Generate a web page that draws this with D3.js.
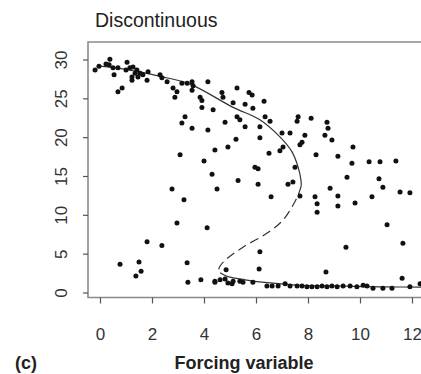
<!DOCTYPE html>
<html>
<head>
<meta charset="utf-8">
<script src="https://cdn.jsdelivr.net/npm/d3@7"></script>
<style>
  html, body { margin: 0; padding: 0; background: #fff; }
  svg { display: block; font-family: "Liberation Sans", Arial, Helvetica, sans-serif; }
</style>
</head>
<body>
<svg id="chart" width="421" height="374"></svg>
<script>
// ---- data ----
const title = "Discontinuous";
const xLabel = "Forcing variable";
const panelLabel = "(c)";
const xTicks = [0, 2, 4, 6, 8, 10, 12];
const yTicks = [0, 5, 10, 15, 20, 25, 30];

// observations: forcing variable (x) and state (y)
const forcingX = [
  -0.19,-0.04,0.23,0.38,0.35,0.5,0.69,0.54,0.69,0.85,1.04,1.0,1.15,1.27,1.42,1.35,1.23,1.23,1.54,1.65,
  1.85,1.81,1.46,2.31,2.38,2.58,2.81,2.96,2.88,3.15,3.35,3.54,3.58,3.54,3.85,3.92,3.92,4.15,4.35,3.27,
  3.15,3.54,4.15,3.08,4.0,2.77,3.23,2.96,1.81,2.38,0.77,1.5,1.58,1.38,3.35,3.38,3.88,4.42,4.12,4.42,
  4.31,4.5,4.69,4.73,5.27,5.73,5.85,6.31,5.12,5.58,5.88,4.81,5.27,5.38,6.35,6.54,5.58,6.15,7.62,7.58,
  8.12,7.0,7.31,7.88,7.77,7.69,8.73,8.77,8.65,8.92,9.73,8.31,9.15,9.69,10.35,10.77,11.38,7.5,4.92,5.23,
  6.15,6.5,6.92,7.04,5.96,6.08,5.31,6.08,7.23,7.42,9.5,10.73,10.88,8.85,11.54,11.92,6.58,7.69,8.27,8.35,
  8.35,9.15,9.15,9.81,10.46,11.04,11.65,6.15,6.12,4.85,8.69,9.46,11.62,
  4.42,4.62,4.81,4.92,5.08,5.12,5.38,5.5,5.88,6.42,6.62,6.85,7.12,7.31,7.58,7.77,7.96,8.15,8.35,8.54,
  8.73,8.92,9.12,9.35,9.62,9.88,10.12,10.27,10.5,10.88,11.23,11.92,12.31
];
const stateY = [
  28.7,29.2,29.5,30.1,29.4,29.0,29.0,28.1,25.9,26.4,29.7,28.7,29.0,29.1,28.7,28.3,27.8,27.4,28.3,28.1,
  28.5,27.4,27.8,28.1,27.7,27.2,26.4,25.9,25.2,27.0,27.0,27.2,26.7,26.1,25.2,24.8,23.9,27.2,23.6,22.7,
  21.9,21.2,21.0,17.8,17.0,13.4,12.0,9.0,6.6,6.1,3.7,4.0,2.8,2.2,3.9,1.4,1.7,1.4,8.4,18.4,
  15.3,13.4,25.8,25.2,26.4,25.8,25.5,24.7,24.5,24.3,23.8,22.0,22.7,22.3,22.7,22.1,21.4,21.4,22.7,22.1,
  22.5,20.6,20.6,20.3,19.4,19.1,22.0,21.2,20.3,19.7,18.8,17.8,17.6,16.7,16.9,16.9,17.0,16.2,18.8,19.8,
  20.0,18.0,18.3,18.8,16.2,16.0,14.5,14.0,14.0,14.3,14.9,14.7,13.6,13.5,13.0,12.9,12.4,12.5,12.4,11.5,
  10.4,12.5,11.2,11.6,12.4,8.8,6.4,5.3,3.1,3.0,2.7,5.9,1.9,
  1.5,1.7,1.8,1.3,1.2,1.5,1.5,1.4,1.4,0.9,0.9,0.9,1.2,0.9,0.9,0.9,0.8,0.8,0.8,0.9,
  0.8,0.9,0.8,0.9,0.9,0.8,1.0,0.9,0.6,0.6,0.6,0.8,1.2
];

// equilibrium curve: stable upper branch, unstable (dashed) middle branch, stable lower branch
const upperX = [0, 1.15, 2.31, 3.46, 5.12, 6.15, 6.92, 7.38, 7.62, 7.73, 7.74];
const upperY = [29.2, 28.7, 27.9, 26.9, 23.9, 22.3, 20.1, 18.2, 16.2, 14.5, 13.8];
const middleX = [7.74, 7.58, 7.04, 6.42, 5.5, 4.81, 4.58, 4.62];
const middleY = [13.8, 12.3, 9.4, 7.7, 5.9, 4.2, 3.2, 2.6];
const lowerX = [4.62, 4.92, 5.58, 6.54, 7.69, 9.23, 10.77, 12.6];
const lowerY = [2.6, 2.1, 1.7, 1.3, 1.0, 0.9, 0.8, 0.75];

// ---- drawing ----
const svg = d3.select("#chart");
const x = d3.scaleLinear().domain([0, 12]).range([100, 412]);
const y = d3.scaleLinear().domain([0, 30]).range([293, 60]);

const frame = { left: 88, top: 42, bottom: 297.5, right: 520 };

svg.append("rect").attr("width", 421).attr("height", 374).attr("fill", "#fff");

// title
svg.append("text").attr("x", 95).attr("y", 27)
  .attr("font-size", 19.5).attr("fill", "#222").text(title);

// curve
const pairs = (xs, ys) => xs.map((v, i) => [v, ys[i]]);
const line = d3.line().x(d => x(d[0])).y(d => y(d[1])).curve(d3.curveCatmullRom.alpha(0.5));
const curveG = svg.append("g").attr("fill", "none").attr("stroke", "#333").attr("stroke-width", 1.2);
curveG.append("path").attr("d", line(pairs(upperX, upperY)));
curveG.append("path").attr("d", line(pairs(middleX, middleY))).attr("stroke-dasharray", "9,5");
curveG.append("path").attr("d", line(pairs(lowerX, lowerY)));

// points
svg.append("g").selectAll("circle")
  .data(forcingX.map((v, i) => [v, stateY[i]]))
  .join("circle")
  .attr("cx", d => x(d[0])).attr("cy", d => y(d[1]))
  .attr("r", 2.5).attr("fill", "#111");

// frame (box)
svg.append("path")
  .attr("d", `M${frame.right},${frame.top}H${frame.left}V${frame.bottom}H${frame.right}`)
  .attr("fill", "none").attr("stroke", "#8a8a8a").attr("stroke-width", 1.6);

// x axis
const xAxis = d3.axisBottom(x).tickValues(xTicks).tickSize(6).tickPadding(24).tickFormat(d3.format("d"));
const gx = svg.append("g").attr("transform", `translate(0,${frame.bottom})`).call(xAxis);
gx.select(".domain").remove();
gx.selectAll(".tick line").attr("stroke", "#555").attr("stroke-width", 1.2);
gx.selectAll(".tick text").attr("font-size", 17).attr("fill", "#333")
  .attr("font-family", "'Liberation Sans', Arial, sans-serif");

// y axis (ticks + rotated labels)
const gy = svg.append("g");
gy.selectAll("line").data(yTicks).join("line")
  .attr("x1", frame.left - 5).attr("x2", frame.left)
  .attr("y1", d => y(d)).attr("y2", d => y(d))
  .attr("stroke", "#555").attr("stroke-width", 1.2);
gy.selectAll("text").data(yTicks).join("text")
  .attr("transform", d => `translate(61,${y(d)}) rotate(-90)`)
  .attr("text-anchor", "middle").attr("dy", "0.35em")
  .attr("font-size", 17).attr("fill", "#333").text(d => d);

// axis label & panel label
svg.append("text").attr("x", 244).attr("y", 369).attr("text-anchor", "middle")
  .attr("font-size", 18).attr("font-weight", "bold").attr("fill", "#222").text(xLabel);
svg.append("text").attr("x", 15).attr("y", 369)
  .attr("font-size", 18).attr("font-weight", "bold").attr("fill", "#222").text(panelLabel);
</script>
</body>
</html>
